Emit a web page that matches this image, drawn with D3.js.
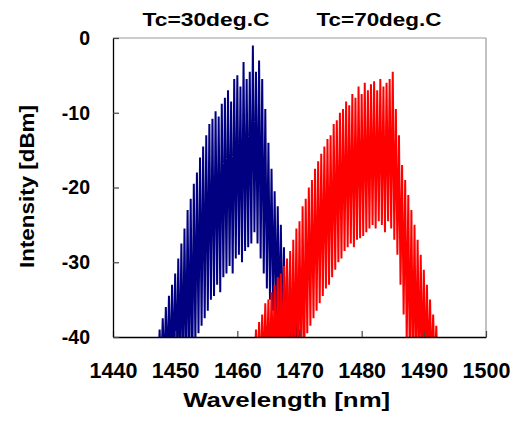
<!DOCTYPE html>
<html>
<head>
<meta charset="utf-8">
<script src="https://cdn.jsdelivr.net/npm/d3@7"></script>
<style>
  body { margin: 0; background: #fff; }
  text { font-family: "Liberation Sans", Arial, sans-serif; font-weight: bold; fill: #000; }
</style>
</head>
<body>
<script>
// ---- data ----
const xTickValues = [1440, 1450, 1460, 1470, 1480, 1490, 1500];
const yTickValues = [-40, -30, -20, -10, 0];
const seriesNames = ["Tc=30deg.C", "Tc=70deg.C"];

// Tc = 30 deg.C : alternating mode peak / trough
const blueWavelength = [
  1447.00,1447.25,1447.50,1447.75,1448.00,1448.25,1448.50,1448.75,
  1449.00,1449.25,1449.50,1449.75,1450.00,1450.25,1450.50,1450.75,
  1451.00,1451.25,1451.50,1451.75,1452.00,1452.25,1452.50,1452.75,
  1453.00,1453.25,1453.50,1453.75,1454.00,1454.25,1454.50,1454.75,
  1455.00,1455.25,1455.50,1455.75,1456.00,1456.25,1456.50,1456.75,
  1457.00,1457.25,1457.50,1457.75,1458.00,1458.25,1458.50,1458.75,
  1459.00,1459.25,1459.50,1459.75,1460.00,1460.25,1460.50,1460.75,
  1461.00,1461.25,1461.50,1461.75,1462.00,1462.25,1462.50,1462.75,
  1463.00,1463.25,1463.50,1463.75,1464.00,1464.25,1464.50,1464.75,
  1465.00,1465.25,1465.50,1465.75,1466.00,1466.25,1466.50,1466.75,
  1467.00,1467.25,1467.50,1467.75,1468.00,1468.25,1468.50,1468.75,
  1469.00,1469.25,1469.50,1469.75,1470.00,1470.25,1470.50,1470.75
];
const blueIntensity = [
  -40.5,-45, -39,-45, -37.5,-45, -36,-45,
  -34.5,-45, -33,-45, -31.5,-45, -29.5,-45,
  -27.5,-45, -25.5,-45, -23,-45, -21.5,-45,
  -19.5,-41, -18,-39.5, -16,-38.5, -14.5,-37.5,
  -13,-36.5, -11.5,-35, -10.8,-34.5, -9.8,-33,
  -10.5,-34, -8.8,-32, -8,-31.5, -7,-30.5,
  -8.5,-31.5, -5.5,-29.5, -5,-29, -6.5,-30,
  -3.2,-28.5, -5.5,-28, -4.5,-27.5, -1.0,-26,
  -4.5,-27.5, -3.0,-29.5, -5.5,-31.5, -9.5,-33.5,
  -14,-35, -17.5,-36.5, -20.5,-38, -22.5,-39.5,
  -25,-41, -28,-45, -31,-45, -33.5,-45,
  -35.5,-45, -37.5,-45, -39,-45, -41,-45
];

// Tc = 70 deg.C : alternating mode peak / trough
const redWavelength = [
  1462.50,1462.75,1463.00,1463.25,1463.50,1463.75,1464.00,1464.25,
  1464.50,1464.75,1465.00,1465.25,1465.50,1465.75,1466.00,1466.25,
  1466.50,1466.75,1467.00,1467.25,1467.50,1467.75,1468.00,1468.25,
  1468.50,1468.75,1469.00,1469.25,1469.50,1469.75,1470.00,1470.25,
  1470.50,1470.75,1471.00,1471.25,1471.50,1471.75,1472.00,1472.25,
  1472.50,1472.75,1473.00,1473.25,1473.50,1473.75,1474.00,1474.25,
  1474.50,1474.75,1475.00,1475.25,1475.50,1475.75,1476.00,1476.25,
  1476.50,1476.75,1477.00,1477.25,1477.50,1477.75,1478.00,1478.25,
  1478.50,1478.75,1479.00,1479.25,1479.50,1479.75,1480.00,1480.25,
  1480.50,1480.75,1481.00,1481.25,1481.50,1481.75,1482.00,1482.25,
  1482.50,1482.75,1483.00,1483.25,1483.50,1483.75,1484.00,1484.25,
  1484.50,1484.75,1485.00,1485.25,1485.50,1485.75,1486.00,1486.25,
  1486.50,1486.75,1487.00,1487.25,1487.50,1487.75,1488.00,1488.25,
  1488.50,1488.75,1489.00,1489.25,1489.50,1489.75,1490.00,1490.25,
  1490.50,1490.75,1491.00,1491.25,1491.50,1491.75,1492.00,1492.25,
  1492.50,1492.75
];
const redIntensity = [
  -40.5,-45, -39,-45, -38,-45, -37,-45,
  -35.5,-45, -35,-45, -34,-45, -33,-45,
  -32,-45, -31.5,-45, -30.5,-45, -29.5,-45,
  -28.5,-45, -27,-45, -25.5,-45, -24.5,-45,
  -22.5,-45, -21.5,-39.5, -20,-38.5, -19,-37.5,
  -17.5,-36.5, -16.5,-35.5, -15.5,-34.5, -14.5,-33.5,
  -13.5,-33, -13,-32, -11.5,-31, -11,-30,
  -10,-29.5, -9.5,-28.5, -8.5,-28, -9,-27.5,
  -7.5,-28, -8,-27, -6.5,-26.8, -7.5,-26.5,
  -6,-26, -7,-25.5, -6.2,-25, -5.8,-25.5,
  -7,-24.5, -5.5,-25, -6.5,-26, -6,-24.5,
  -5.5,-25.5, -4.5,-27, -9.5,-29, -13,-33,
  -17,-37, -19,-41, -21,-45, -23,-45,
  -25,-45, -27,-45, -29,-45, -31,-45,
  -33,-45, -35,-45, -37,-45, -38.5,-45,
  -40.5,-45
];

// ---- drawing ----
const W = 518, H = 421;
const svg = d3.select("body").append("svg").attr("width", W).attr("height", H);
svg.append("rect").attr("width", W).attr("height", H).attr("fill", "#fff");

const x = d3.scaleLinear().domain([1440, 1500]).range([113, 486]);
const y = d3.scaleLinear().domain([-40, 0]).range([337, 38]);

svg.append("clipPath").attr("id", "plotclip")
  .append("rect")
  .attr("x", x.range()[0]).attr("y", y.range()[1])
  .attr("width", x.range()[1] - x.range()[0])
  .attr("height", y.range()[0] - y.range()[1]);

const line = d3.line().x(d => x(d[0])).y(d => y(d[1]));
const plot = svg.append("g").attr("clip-path", "url(#plotclip)");

plot.append("path")
  .datum(d3.zip(blueWavelength, blueIntensity))
  .attr("d", line).attr("fill", "none")
  .attr("stroke", "#000080").attr("stroke-width", 2).attr("stroke-linejoin", "miter");

plot.append("path")
  .datum(d3.zip(redWavelength, redIntensity))
  .attr("d", line).attr("fill", "none")
  .attr("stroke", "#ff0000").attr("stroke-width", 2).attr("stroke-linejoin", "miter");

// frame: top and right grey
svg.append("line").attr("x1", x.range()[0]).attr("x2", x.range()[1])
  .attr("y1", y.range()[1]).attr("y2", y.range()[1])
  .attr("stroke", "#999").attr("stroke-width", 1.2);
svg.append("line").attr("x1", x.range()[1]).attr("x2", x.range()[1])
  .attr("y1", y.range()[1]).attr("y2", y.range()[0])
  .attr("stroke", "#999").attr("stroke-width", 1.2);

// axes
const xAxis = d3.axisBottom(x).tickValues(xTickValues)
  .tickSizeInner(-6).tickSizeOuter(0).tickPadding(25.5)
  .tickFormat(d => String(d));
const gx = svg.append("g").attr("transform", `translate(0,${y.range()[0]})`).call(xAxis);
gx.select(".domain").attr("stroke", "#000").attr("stroke-width", 1.3);
gx.selectAll(".tick line").attr("stroke", "#444").attr("stroke-width", 1.2);
gx.selectAll(".tick text").attr("font-size", 21.5).attr("font-family", null);

const yAxis = d3.axisLeft(y).tickValues(yTickValues)
  .tickSizeInner(-6).tickSizeOuter(0).tickPadding(23)
  .tickFormat(d => String(d));
const gy = svg.append("g").attr("transform", `translate(${x.range()[0]},0)`).call(yAxis);
gy.select(".domain").attr("stroke", "#000").attr("stroke-width", 1.3);
gy.selectAll(".tick line").attr("stroke", "#444").attr("stroke-width", 1.2);
gy.selectAll(".tick text").attr("font-size", 19.5).attr("font-family", null);
svg.selectAll(".tick text").style("font-family", '"Liberation Sans", Arial, sans-serif').style("font-weight", "bold");

// series titles
svg.append("text").attr("x", 206).attr("y", 26).attr("text-anchor", "middle")
  .attr("font-size", 19).attr("textLength", 127).attr("lengthAdjust", "spacingAndGlyphs")
  .text(seriesNames[0]);
svg.append("text").attr("x", 379).attr("y", 26).attr("text-anchor", "middle")
  .attr("font-size", 19).attr("textLength", 125).attr("lengthAdjust", "spacingAndGlyphs")
  .text(seriesNames[1]);

// axis titles
svg.append("text").attr("x", 286.7).attr("y", 406.5).attr("text-anchor", "middle")
  .attr("font-size", 21).attr("textLength", 207).attr("lengthAdjust", "spacingAndGlyphs")
  .text("Wavelength [nm]");
svg.append("text").attr("transform", "translate(34,186.5) rotate(-90)")
  .attr("text-anchor", "middle")
  .attr("font-size", 21).attr("textLength", 163).attr("lengthAdjust", "spacingAndGlyphs")
  .text("Intensity [dBm]");
</script>
</body>
</html>
